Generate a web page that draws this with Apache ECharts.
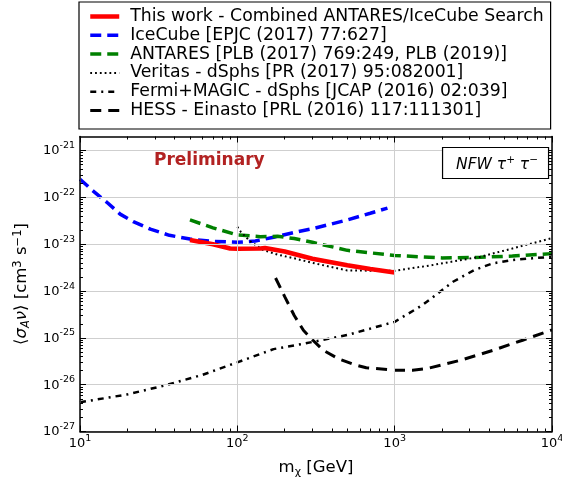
<!DOCTYPE html>
<html><head><meta charset="utf-8">
<script src="https://cdn.jsdelivr.net/npm/echarts@6/dist/echarts.min.js"></script>
<style>html,body{margin:0;padding:0;background:#fff}#c{width:562px;height:484px}</style>
</head><body><div id="c"></div>
<script>
// ---- data (mass in GeV, <sigma v> in cm^3 s^-1) ----
const thisWorkMass  = [50, 70, 90, 100, 140, 150, 200, 300, 500, 700, 1000];
const thisWorkSigma = [1.23e-23, 1.0e-23, 8.1e-24, 8.0e-24, 8.1e-24, 8.3e-24, 7.0e-24, 4.9e-24, 3.55e-24, 2.95e-24, 2.5e-24];

const iceCubeMass  = [10, 12, 15, 18, 22, 28, 37, 50, 70, 100, 130, 170, 250, 300, 500, 700, 900];
const iceCubeSigma = [2.45e-22, 1.41e-22, 7.6e-23, 4.4e-23, 3.0e-23, 2.1e-23, 1.55e-23, 1.29e-23, 1.15e-23, 1.10e-23, 1.17e-23, 1.41e-23, 1.9e-23, 2.14e-23, 3.3e-23, 4.6e-23, 5.9e-23];

const antaresMass  = [50, 70, 100, 140, 180, 230, 300, 500, 1000, 2000, 3500, 5600, 10000];
const antaresSigma = [3.3e-23, 2.24e-23, 1.58e-23, 1.45e-23, 1.48e-23, 1.32e-23, 1.10e-23, 7.4e-24, 5.75e-24, 5.1e-24, 5.25e-24, 5.6e-24, 6.3e-24];

const veritasMass  = [100, 105, 120, 145, 180, 230, 300, 500, 1000, 1700, 3500, 5600, 10000];
const veritasSigma = [2.35e-23, 1.86e-23, 1.17e-23, 7.6e-24, 6.0e-24, 5.0e-24, 4.0e-24, 2.75e-24, 2.7e-24, 3.55e-24, 5.4e-24, 8.1e-24, 1.35e-23];

const fermiMass  = [10, 20, 34, 60, 100, 170, 270, 500, 1000, 1500, 2350, 3200, 4200, 5600, 7500, 10000];
const fermiSigma = [4.2e-27, 6.2e-27, 9.5e-27, 1.62e-26, 3.0e-26, 5.75e-26, 7.6e-26, 1.15e-25, 2.2e-25, 5.0e-25, 1.58e-24, 2.8e-24, 3.9e-24, 4.6e-24, 5.0e-24, 5.4e-24];

const hessMass  = [175, 200, 230, 263, 300, 350, 437, 550, 660, 1000, 1300, 1600, 2600, 4200, 6500, 10000];
const hessSigma = [1.9e-24, 7.6e-25, 3.0e-25, 1.45e-25, 9.1e-26, 5.5e-26, 3.6e-26, 2.7e-26, 2.3e-26, 2.04e-26, 2.04e-26, 2.2e-26, 3.3e-26, 5.4e-26, 8.9e-26, 1.48e-25];

// axis ranges / tick labels (powers of ten)
const xRange = [10, 1e4];
const yRange = [1e-27, 2e-21];
const xTickExponents = [1, 2, 3, 4];
const yTickExponents = [-27, -26, -25, -24, -23, -22, -21];

// ---- build ----
const L = Math.log10;
const FONT = 'DejaVu Sans';
function pts(m, s) { return m.map((v, i) => [L(v), L(s[i])]); }
function minorTicks(e0, e1, maxVal) {
  const out = [];
  for (let e = e0; e < e1; e++) for (let k = 2; k <= 9; k++) {
    const v = k * Math.pow(10, e);
    if (v < maxVal) out.push(L(v));
  }
  return out;
}
const xMin = L(xRange[0]), xMax = L(xRange[1]);
const yMin = L(yRange[0]), yMax = L(yRange[1]);
const xMinor = minorTicks(xTickExponents[0], xTickExponents[xTickExponents.length - 1], xRange[1]);
const yMinor = minorTicks(yTickExponents[0], yTickExponents[yTickExponents.length - 1] + 1, yRange[1]);

const labelRich = {
  b: { fontFamily: FONT, fontSize: 13, color: '#000', verticalAlign: 'bottom', lineHeight: 14 },
  s: { fontFamily: FONT, fontSize: 9.5, color: '#000', verticalAlign: 'bottom', lineHeight: 10, padding: [0, 0, 7, 0] }
};
const fmt = v => '{b|10}{s|' + Math.round(v) + '}';

function mkAxis(kind, pos, major, withLabels) {
  const isX = kind === 'x';
  const a = {
    type: 'value', position: pos,
    min: isX ? xMin : yMin, max: isX ? xMax : yMax, interval: 1,
    axisLine: { show: major, lineStyle: { color: '#000', width: 1.5 } },
    axisTick: { show: true, inside: true, length: major ? 6 : 3,
      customValues: major ? (isX ? xTickExponents : yTickExponents) : (isX ? xMinor : yMinor),
      lineStyle: { color: '#000', width: 1 } },
    axisLabel: { show: !!withLabels },
    splitLine: { show: false },
    z: 5
  };
  if (withLabels) {
    a.axisLabel = { show: true, customValues: isX ? xTickExponents : yTickExponents,
      formatter: fmt, rich: labelRich, margin: 5 };
    a.splitLine = { show: true, lineStyle: { color: '#cfcfcf', width: 1 } };
  }
  return a;
}

const xAxes = [mkAxis('x', 'bottom', true, true), mkAxis('x', 'bottom', false), mkAxis('x', 'top', true), mkAxis('x', 'top', false)];
const yAxes = [mkAxis('y', 'left', true, true), mkAxis('y', 'left', false), mkAxis('y', 'right', true), mkAxis('y', 'right', false)];

const nameRich = {
  t: { fontFamily: FONT, fontSize: 16.5, color: '#000' },
  it: { fontFamily: FONT, fontSize: 16.5, fontStyle: 'italic', color: '#000' },
  sub: { fontFamily: FONT, fontSize: 11.5, fontStyle: 'italic', color: '#000', padding: [8, 0, 0, 0] },
  subn: { fontFamily: FONT, fontSize: 11, color: '#000', padding: [9, 0, 0, 0] },
  sup: { fontFamily: FONT, fontSize: 11.5, color: '#000', padding: [0, 0, 8, 0] }
};
xAxes[0].name = '{t|m}{subn|χ}{t| [GeV]}';
xAxes[0].nameLocation = 'middle';
xAxes[0].nameGap = 26;
xAxes[0].nameTextStyle = { rich: nameRich };
yAxes[0].name = '{t|⟨}{it|σ}{sub|A}{it|ν}{t|⟩ [cm}{sup|3}{t| s}{sup|−1}{t|]}';
yAxes[0].nameLocation = 'middle';
yAxes[0].nameGap = 45;
yAxes[0].nameRotate = 90;
yAxes[0].nameTextStyle = { rich: nameRich };

function line(name, m, s, color, width, type, z) {
  return { name, type: 'line', data: pts(m, s), showSymbol: false, symbol: 'none',
    smooth: false, animation: false, z: z || 2, clip: true,
    lineStyle: { color, width, type, cap: 'butt' }, itemStyle: { color } };
}
const series = [
  line('IceCube [EPJC (2017) 77:627]', iceCubeMass, iceCubeSigma, '#0000ff', 3.5, [11, 6]),
  line('ANTARES [PLB (2017) 769:249, PLB (2019)]', antaresMass, antaresSigma, '#008000', 3.5, [11, 6]),
  line('Veritas - dSphs [PR (2017) 95:082001]', veritasMass, veritasSigma, '#000000', 2, [1.8, 3]),
  line('Fermi+MAGIC - dSphs [JCAP (2016) 02:039]', fermiMass, fermiSigma, '#000000', 2.5, [6, 5, 2, 5]),
  line('HESS - Einasto [PRL (2016) 117:111301]', hessMass, hessSigma, '#000000', 3, [11, 7]),
  line('This work - Combined ANTARES/IceCube Search', thisWorkMass, thisWorkSigma, '#ff0000', 4.5, 'solid', 3)
];
const legendOrder = [5, 0, 1, 2, 3, 4];

const option = {
  animation: false,
  backgroundColor: '#fff',
  grid: { left: 80, right: 10, top: 136.5, bottom: 52.5, containLabel: false, outerBoundsMode: 'none' },
  xAxis: xAxes,
  yAxis: yAxes,
  legend: {
    left: 79, top: 2, orient: 'vertical', selectedMode: false,
    data: legendOrder.map(i => ({ name: series[i].name,
      lineStyle: { width: series[i].lineStyle.width, type: series[i].lineStyle.type, color: series[i].lineStyle.color } })),
    itemWidth: 29, itemHeight: 10, itemGap: 1.8,
    padding: [6, 7, 10, 9],
    borderColor: '#000', borderWidth: 1.2, backgroundColor: '#fff',
    itemStyle: { opacity: 0, color: 'rgba(0,0,0,0)', borderWidth: 0 },
    textStyle: { fontFamily: FONT, fontSize: 17.3, color: '#000', lineHeight: 17, padding: [0, 0, 0, 6] }
  },
  title: [
    { text: 'Preliminary', left: 154, top: 152, padding: 0,
      textStyle: { fontFamily: FONT, fontSize: 17, fontWeight: 'bold', color: '#b22222' } },
    { text: '{i|NFW }{i|τ}{p|+}{i| τ}{p|−}', right: 13, top: 147, padding: [8, 11, 6, 14],
      borderWidth: 1.2, borderColor: '#000', backgroundColor: '#fff',
      textStyle: { fontWeight: 'normal', rich: {
        i: { fontFamily: FONT, fontSize: 15.5, fontStyle: 'italic', fontWeight: 'normal', color: '#000' },
        p: { fontFamily: FONT, fontSize: 10.5, fontWeight: 'normal', color: '#000', padding: [0, 0, 8, 0] } } } }
  ],
  series: series.map(s => Object.assign(s, { xAxisIndex: 0, yAxisIndex: 0 }))
};

const chart = echarts.init(document.getElementById('c'), null, { renderer: 'canvas' });
chart.setOption(option);
</script>
</body></html>
